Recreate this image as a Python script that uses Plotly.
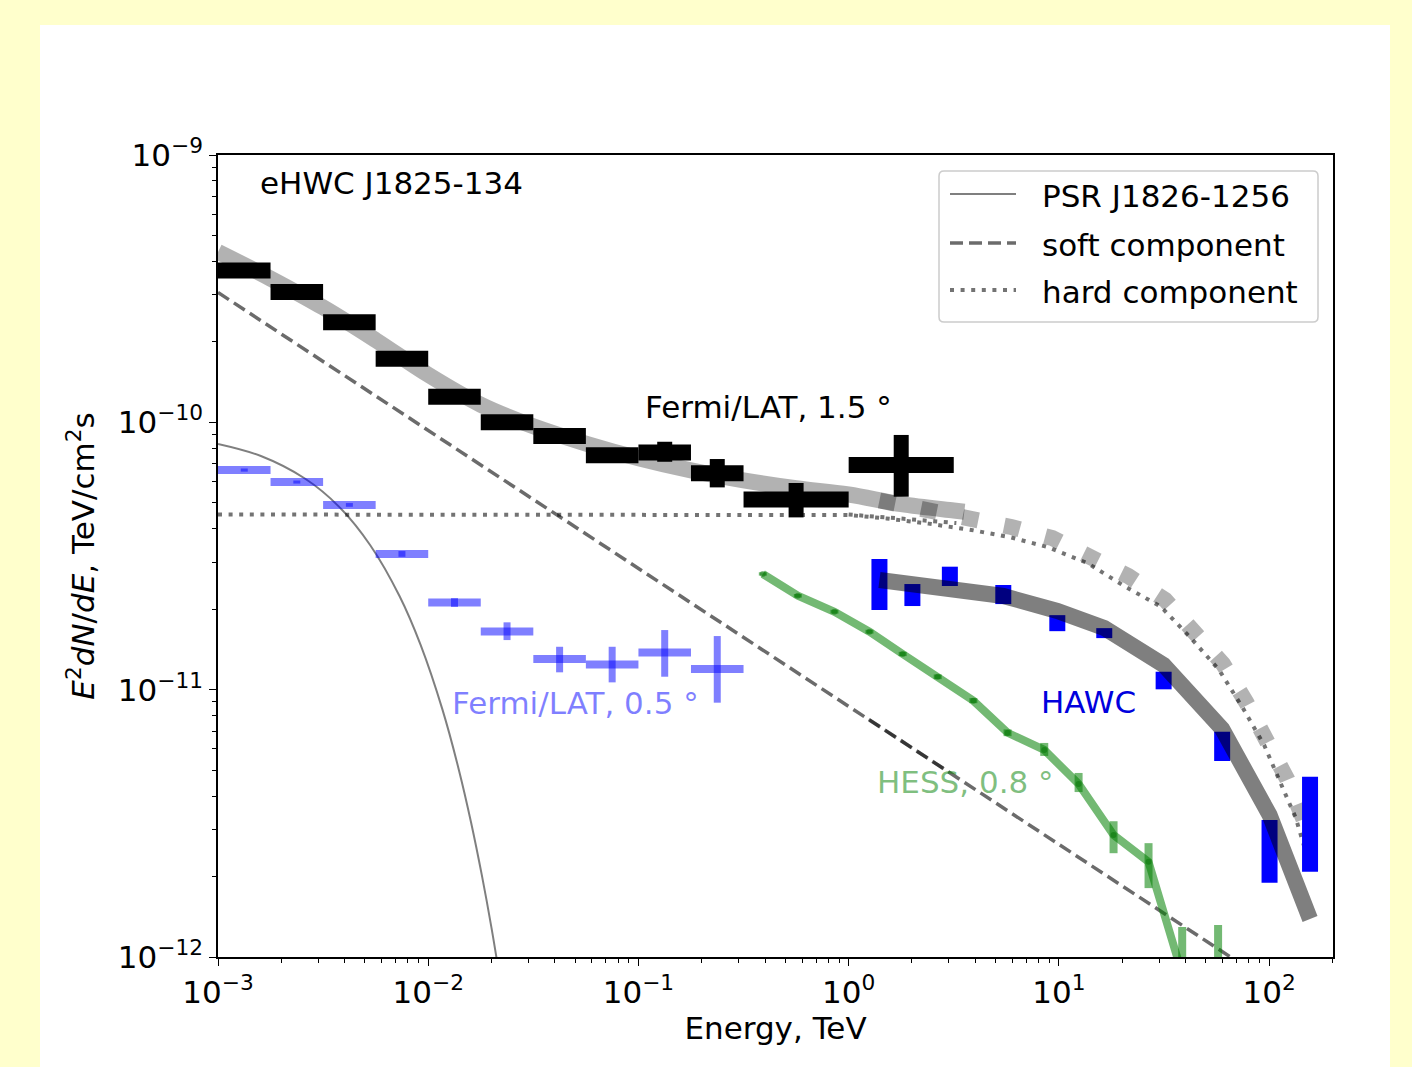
import numpy as np
import plotly.graph_objects as go

# ---------------- data ----------------
# Fermi/LAT 1.5 deg (black)
f15_e_lo = [1.000e-3, 1.778e-3, 3.162e-3, 5.623e-3, 1.000e-2, 1.778e-2,
            3.162e-2, 5.623e-2, 0.1000, 0.1778, 0.3162, 1.000]
f15_e_hi = [1.778e-3, 3.162e-3, 5.623e-3, 1.000e-2, 1.778e-2, 3.162e-2,
            5.623e-2, 0.1000, 0.1778, 0.3162, 1.000, 3.162]
f15_flux = [3.70e-10, 3.07e-10, 2.37e-10, 1.73e-10, 1.246e-10, 1.00e-10,
            8.89e-11, 7.53e-11, 7.71e-11, 6.45e-11, 5.15e-11, 6.92e-11]
f15_hi = [3.80e-10, 3.15e-10, 2.43e-10, 1.78e-10, 1.28e-10, 1.03e-10,
          9.15e-11, 7.75e-11, 8.46e-11, 7.29e-11, 5.93e-11, 8.97e-11]
f15_lo = [3.60e-10, 2.99e-10, 2.31e-10, 1.68e-10, 1.21e-10, 0.97e-10,
          8.63e-11, 7.31e-11, 7.12e-11, 5.71e-11, 4.41e-11, 5.27e-11]

# Fermi/LAT 0.5 deg (light blue)
f05_e_lo = [1.000e-3, 1.778e-3, 3.162e-3, 5.623e-3, 1.000e-2, 1.778e-2,
            3.162e-2, 5.623e-2, 0.1000, 0.1778]
f05_e_hi = [1.778e-3, 3.162e-3, 5.623e-3, 1.000e-2, 1.778e-2, 3.162e-2,
            5.623e-2, 0.1000, 0.1778, 0.3162]
f05_flux = [6.63e-11, 5.98e-11, 4.91e-11, 3.22e-11, 2.118e-11, 1.650e-11,
            1.302e-11, 1.242e-11, 1.377e-11, 1.195e-11]
f05_hi = [6.72e-11, 6.06e-11, 4.99e-11, 3.30e-11, 2.20e-11, 1.786e-11,
          1.447e-11, 1.447e-11, 1.671e-11, 1.587e-11]
f05_lo = [6.54e-11, 5.90e-11, 4.83e-11, 3.14e-11, 2.04e-11, 1.533e-11,
          1.161e-11, 1.065e-11, 1.118e-11, 8.94e-12]

# HESS 0.8 deg (green)
hess_e = [0.3906, 0.573, 0.856, 1.256, 1.807, 2.652, 3.92, 5.70, 8.52,
          12.41, 18.2, 26.7, 38.6, 57.2]
hess_flux = [2.708e-11, 2.246e-11, 1.957e-11, 1.647e-11, 1.359e-11, 1.118e-11,
             9.09e-12, 6.90e-12, 5.95e-12, 4.44e-12, 2.86e-12, 2.27e-12,
             8.64e-13, 6.9e-13]
hess_hi = [2.75e-11, 2.28e-11, 1.99e-11, 1.675e-11, 1.385e-11, 1.14e-11,
           9.3e-12, 7.1e-12, 6.32e-12, 4.88e-12, 3.22e-12, 2.666e-12,
           1.295e-12, 1.317e-12]
hess_lo = [2.67e-11, 2.21e-11, 1.925e-11, 1.62e-11, 1.335e-11, 1.095e-11,
           8.9e-12, 6.7e-12, 5.65e-12, 4.14e-12, 2.445e-12, 1.81e-12,
           5.0e-13, 4.0e-13]

# HAWC (blue)
hawc_e = [1.401, 2.01, 3.03, 5.44, 9.83, 16.44, 31.5, 59.8, 100.5, 156.6]
hawc_flux = [2.506e-11, 2.26e-11, 2.66e-11, 2.265e-11, 1.773e-11, 1.628e-11,
             1.082e-11, 6.16e-12, 2.49e-12, 3.145e-12]
hawc_hi = [3.08e-11, 2.484e-11, 2.884e-11, 2.463e-11, 1.90e-11, 1.699e-11,
           1.167e-11, 6.96e-12, 3.253e-12, 4.725e-12]
hawc_lo = [1.986e-11, 2.055e-11, 2.442e-11, 2.09e-11, 1.655e-11, 1.559e-11,
           1.003e-11, 5.41e-12, 1.895e-12, 2.084e-12]

# model curves
hawc_model_e = [1.401, 2.01, 3.03, 5.44, 9.83, 16.44, 31.5, 59.8, 100.5, 156.6]
hawc_model_f = [2.571e-11, 2.484e-11, 2.40e-11, 2.241e-11, 1.969e-11, 1.701e-11,
                1.237e-11, 7.13e-12, 3.40e-12, 1.387e-12]

fermi_model_e = [1e-3, 1.778e-3, 3.162e-3, 5.623e-3, 1e-2, 1.778e-2, 3.162e-2,
                 5.623e-2, 0.1, 0.1778, 0.3162, 0.5623, 1.0, 1.778, 3.162, 3.55]
fermi_model_f = [4.34e-10, 3.45e-10, 2.69e-10, 2.03e-10, 1.506e-10, 1.164e-10,
                 9.66e-11, 8.33e-11, 7.34e-11, 6.61e-11, 6.07e-11, 5.67e-11,
                 5.37e-11, 4.94e-11, 4.68e-11, 4.63e-11]

total_model_e = [1.401, 2.395, 3.835, 5.94, 9.30, 14.26, 21.38, 32.04, 44.0,
                 60.4, 77.7, 97.8, 121.8, 150.0]
total_model_f = [5.10e-11, 4.74e-11, 4.39e-11, 4.06e-11, 3.69e-11, 3.16e-11,
                 2.66e-11, 2.165e-11, 1.643e-11, 1.247e-11, 8.99e-12, 6.54e-12,
                 4.63e-12, 3.1e-12]

psr_e = [1e-3, 1.6e-3, 2.6e-3, 3.76e-3, 5.3e-3, 7.3e-3, 9.2e-3, 1.17e-2,
         1.4e-2, 1.6e-2, 1.8e-2, 2.0e-2, 2.2e-2]
psr_f = [8.30e-11, 7.48e-11, 6.15e-11, 4.84e-11, 3.47e-11, 2.24e-11, 1.47e-11,
         8.40e-12, 5.00e-12, 3.18e-12, 2.02e-12, 1.285e-12, 8.15e-13]

soft_e = [1e-3, 100.0]
soft_f = [3.06e-10, 8.04e-13]
soft_hess_e = [1.247, 3.0]
soft_hess_f = [7.74e-12, 4.915e-12]

hard_e = [1e-3, 1.0, 1.512, 2.395, 3.835, 5.94, 8.81, 13.65, 20.46, 30.57,
          42.46, 57.87, 74.4, 94.7, 115.3, 134.0, 150.0]
hard_f = [4.52e-11, 4.50e-11, 4.37e-11, 4.18e-11, 3.957e-11, 3.709e-11,
          3.417e-11, 2.977e-11, 2.442e-11, 2.043e-11, 1.560e-11, 1.184e-11,
          8.63e-12, 6.21e-12, 4.34e-12, 3.31e-12, 2.45e-12]
hard_b_e = [1.0, 1.341, 1.744, 3.253]
hard_b_f = [4.52e-11, 4.42e-11, 4.37e-11, 4.20e-11]

x_tick_vals = [1e-3, 1e-2, 1e-1, 1e0, 1e1, 1e2]
x_tick_text = ["10<sup>\u22123</sup>", "10<sup>\u22122</sup>", "10<sup>\u22121</sup>",
               "10<sup>0</sup>", "10<sup>1</sup>", "10<sup>2</sup>"]
y_tick_vals = [1e-12, 1e-11, 1e-10, 1e-9]
y_tick_text = ["10<sup>\u221212</sup>", "10<sup>\u221211</sup>",
               "10<sup>\u221210</sup>", "10<sup>\u22129</sup>"]

legend_labels = ["PSR J1826-1256", "soft component", "hard component"]

# ---------------- figure ----------------
FONT = "DejaVu Sans"
W, H = 1412, 1067
PL, PR, PT, PB = 218, 1333, 155, 957


def pxx(x):
    return (x - PL) / (PR - PL)


def pxy(y):
    return (PB - y) / (PB - PT)


def bins(lo, hi, f, fhi, flo):
    lo, hi, f = np.array(lo), np.array(hi), np.array(f)
    c = np.sqrt(lo * hi)
    return c, hi - c, c - lo, np.array(fhi) - f, f - np.array(flo)


fig = go.Figure()

# PSR
fig.add_trace(go.Scatter(x=psr_e, y=psr_f, mode="lines",
                         line=dict(color="rgba(0,0,0,0.5)", width=2, shape="spline"),
                         showlegend=False, hoverinfo="skip"))
# soft component
fig.add_trace(go.Scatter(x=soft_e, y=soft_f, mode="lines",
                         line=dict(color="rgba(0,0,0,0.58)", width=3.5, dash="13px,6px"),
                         showlegend=False, hoverinfo="skip"))
fig.add_trace(go.Scatter(x=soft_hess_e, y=soft_hess_f, mode="lines",
                         line=dict(color="rgba(0,0,0,0.5)", width=3.5, dash="13px,6px"),
                         showlegend=False, hoverinfo="skip"))
# hard component
fig.add_trace(go.Scatter(x=hard_e, y=hard_f, mode="lines",
                         line=dict(color="rgba(0,0,0,0.55)", width=4, dash="4px,6.6px"),
                         showlegend=False, hoverinfo="skip"))
fig.add_trace(go.Scatter(x=hard_b_e, y=hard_b_f, mode="lines",
                         line=dict(color="rgba(0,0,0,0.55)", width=4, dash="4px,6.6px"),
                         showlegend=False, hoverinfo="skip"))
# Fermi model band
fig.add_trace(go.Scatter(x=fermi_model_e, y=fermi_model_f, mode="lines",
                         line=dict(color="rgba(0,0,0,0.3)", width=16, shape="spline"),
                         showlegend=False, hoverinfo="skip"))
# total model (thick dotted)
fig.add_trace(go.Scatter(x=total_model_e, y=total_model_f, mode="lines",
                         line=dict(color="rgba(0,0,0,0.3)", width=16, dash="16px,26.4px"),
                         showlegend=False, hoverinfo="skip"))

# Fermi 0.5 deg
c, xp, xm, yp, ym = bins(f05_e_lo, f05_e_hi, f05_flux, f05_hi, f05_lo)
fig.add_trace(go.Scatter(x=c, y=f05_flux, mode="markers",
                         marker=dict(size=1, opacity=0),
                         error_x=dict(type="data", array=xp, arrayminus=xm, symmetric=False,
                                      color="rgba(0,0,255,0.5)", thickness=8, width=0),
                         error_y=dict(type="data", array=yp, arrayminus=ym, symmetric=False,
                                      color="rgba(0,0,255,0.5)", thickness=7, width=0),
                         showlegend=False, hoverinfo="skip"))

# HESS
hp = np.array(hess_hi) - np.array(hess_flux)
hm = np.array(hess_flux) - np.array(hess_lo)
fig.add_trace(go.Scatter(x=hess_e, y=hess_flux, mode="lines+markers",
                         line=dict(color="rgba(0,128,0,0.55)", width=8),
                         marker=dict(size=6, color="rgba(0,110,0,0.45)"),
                         error_y=dict(type="data", array=hp, arrayminus=hm, symmetric=False,
                                      color="rgba(0,128,0,0.55)", thickness=8, width=0),
                         showlegend=False, hoverinfo="skip"))

# Fermi 1.5 deg
c, xp, xm, yp, ym = bins(f15_e_lo, f15_e_hi, f15_flux, f15_hi, f15_lo)
fig.add_trace(go.Scatter(x=c, y=f15_flux, mode="markers",
                         marker=dict(size=1, opacity=0),
                         error_x=dict(type="data", array=xp, arrayminus=xm, symmetric=False,
                                      color="black", thickness=16, width=0),
                         error_y=dict(type="data", array=yp, arrayminus=ym, symmetric=False,
                                      color="black", thickness=15, width=0),
                         showlegend=False, hoverinfo="skip"))

# HAWC
wp = np.array(hawc_hi) - np.array(hawc_flux)
wm = np.array(hawc_flux) - np.array(hawc_lo)
fig.add_trace(go.Scatter(x=hawc_e, y=hawc_flux, mode="markers",
                         marker=dict(size=1, opacity=0),
                         error_y=dict(type="data", array=wp, arrayminus=wm, symmetric=False,
                                      color="#0000ff", thickness=16, width=0),
                         showlegend=False, hoverinfo="skip"))
# HAWC model
fig.add_trace(go.Scatter(x=hawc_model_e, y=hawc_model_f, mode="lines",
                         line=dict(color="rgba(0,0,0,0.5)", width=16),
                         showlegend=False, hoverinfo="skip"))

# ---------------- texts ----------------
TS = 31
texts = [
    ("eHWC J1825-134", 1.55e-3, 7.86e-10, "black"),
    ("Fermi/LAT, 1.5 \u00b0", 0.105, 1.141e-10, "black"),
    ("Fermi/LAT, 0.5 \u00b0", 0.01268, 8.91e-12, "rgba(0,0,255,0.5)"),
    ("HAWC", 8.07, 8.99e-12, "#0000dd"),
    ("HESS, 0.8 \u00b0", 1.33, 4.52e-12, "rgba(0,128,0,0.5)"),
]
for t, xe, yf, col in texts:
    fig.add_annotation(x=np.log10(xe), y=np.log10(yf), xref="x", yref="y", text=t,
                       showarrow=False, xanchor="left", yanchor="middle",
                       font=dict(family=FONT, size=TS, color=col))

# ---------------- custom legend ----------------
shapes = []
# white panel behind the figure
shapes.append(dict(type="rect", xref="paper", yref="paper", layer="below",
                   x0=pxx(40), x1=pxx(1390), y0=pxy(1080), y1=pxy(25),
                   fillcolor="white", line=dict(width=0)))
bx0, bx1, by0, by1 = pxx(939), pxx(1318), pxy(322), pxy(171)
rx, ry = 5 / (PR - PL), 5 / (PB - PT)
path = (f"M {bx0+rx},{by1} L {bx1-rx},{by1} Q {bx1},{by1} {bx1},{by1-ry} "
        f"L {bx1},{by0+ry} Q {bx1},{by0} {bx1-rx},{by0} L {bx0+rx},{by0} "
        f"Q {bx0},{by0} {bx0},{by0+ry} L {bx0},{by1-ry} Q {bx0},{by1} {bx0+rx},{by1} Z")
shapes.append(dict(type="path", xref="paper", yref="paper", path=path, layer="above",
                   fillcolor="rgba(255,255,255,0.8)", line=dict(color="#cccccc", width=1.5)))
leg_rows = [(194, dict(color="rgba(0,0,0,0.5)", width=2)),
            (243, dict(color="rgba(0,0,0,0.58)", width=3.5, dash="13px,6px")),
            (290, dict(color="rgba(0,0,0,0.55)", width=4, dash="4px,6.6px"))]
for (yy, ln), lab in zip(leg_rows, legend_labels):
    shapes.append(dict(type="line", xref="paper", yref="paper", layer="above",
                       x0=pxx(950), x1=pxx(1016), y0=pxy(yy), y1=pxy(yy), line=ln))
    fig.add_annotation(x=pxx(1040), y=pxy(yy + 2), xref="paper", yref="paper", text=lab,
                       showarrow=False, xanchor="left", yanchor="middle",
                       font=dict(family=FONT, size=TS, color="black"))

minor_x = [m * 10.0 ** k for k in range(-3, 3) for m in range(2, 10)]
minor_y = [m * 10.0 ** k for k in range(-12, -9) for m in range(2, 10)]

fig.update_layout(
    width=W, height=H,
    margin=dict(l=PL, r=W - PR, t=PT, b=H - PB, autoexpand=False),
    paper_bgcolor="#ffffcc", plot_bgcolor="white",
    shapes=shapes,
    font=dict(family=FONT, size=TS, color="black"),
    showlegend=False,
)
fig.update_xaxes(type="log", range=[-3, 2.304], showgrid=False, zeroline=False,
                 showline=True, mirror=True, linecolor="black", linewidth=1.5,
                 ticks="outside", ticklen=7, tickwidth=1.2, tickcolor="black",
                 tickvals=x_tick_vals, ticktext=x_tick_text,
                 tickfont=dict(family=FONT, size=TS, color="black"),
                 minor=dict(tickvals=minor_x, ticks="outside", ticklen=4, tickwidth=1,
                            tickcolor="black", showgrid=False),
                 title=dict(text="Energy, TeV", font=dict(family=FONT, size=TS, color="black"),
                            standoff=8))
fig.update_yaxes(type="log", range=[-12, -9], showgrid=False, zeroline=False,
                 showline=True, mirror=True, linecolor="black", linewidth=1.5,
                 ticks="outside", ticklen=7, tickwidth=1.2, tickcolor="black",
                 tickvals=y_tick_vals, ticktext=y_tick_text,
                 tickfont=dict(family=FONT, size=TS, color="black"),
                 minor=dict(tickvals=minor_y, ticks="outside", ticklen=4, tickwidth=1,
                            tickcolor="black", showgrid=False),
                 title=dict(text="<i>E</i><sup>2</sup><i>dN</i>/<i>dE</i>, TeV/cm<sup>2</sup>s",
                            font=dict(family=FONT, size=TS, color="black"), standoff=14))

fig.write_html("out.html",
               config={"displayModeBar": False},
               post_script="document.body.style.margin='0';"
                           "document.body.style.background='#ffffcc';")
